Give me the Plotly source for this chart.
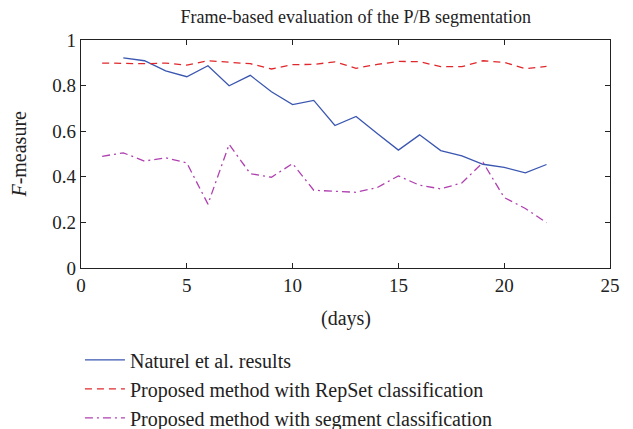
import plotly.graph_objects as go

days_blue = list(range(2, 23))
naturel = [0.922, 0.909, 0.865, 0.839, 0.887, 0.799, 0.845, 0.773, 0.717, 0.735, 0.625,
           0.665, 0.590, 0.517, 0.584, 0.515, 0.492, 0.455, 0.441, 0.417, 0.454]
days = list(range(1, 23))
repset = [0.899, 0.896, 0.896, 0.899, 0.890, 0.909, 0.903, 0.896, 0.873, 0.892, 0.893,
          0.904, 0.876, 0.893, 0.906, 0.905, 0.883, 0.883, 0.909, 0.902, 0.874, 0.884]
segment = [0.490, 0.505, 0.469, 0.483, 0.461, 0.280, 0.542, 0.414, 0.398, 0.458, 0.341,
           0.337, 0.332, 0.353, 0.404, 0.363, 0.347, 0.373, 0.463, 0.309, 0.261, 0.199]

x_ticks = [0, 5, 10, 15, 20, 25]
y_ticks = [0, 0.2, 0.4, 0.6, 0.8, 1]
y_tick_labels = ["0", "0.2", "0.4", "0.6", "0.8", "1"]

FONT = "Liberation Serif"
TXT = "#222"

fig = go.Figure()
fig.add_trace(go.Scatter(x=days_blue, y=naturel, mode="lines", name="Naturel et al. results",
                         line=dict(color="#3a56b0", width=1.3)))
fig.add_trace(go.Scatter(x=days, y=repset, mode="lines", name="Proposed method with RepSet classification",
                         line=dict(color="#e0282c", width=1.3, dash="7px,5px")))
fig.add_trace(go.Scatter(x=days, y=segment, mode="lines", name="Proposed method with segment classification",
                         line=dict(color="#b040b0", width=1.3, dash="8px,4px,2px,4px")))

axis_common = dict(showline=True, linecolor="#222", linewidth=1.2, mirror="allticks",
                   ticks="inside", ticklen=5, tickcolor="#222", showgrid=False, zeroline=False,
                   automargin=False, tickfont=dict(family=FONT, size=19, color=TXT))

fig.update_layout(
    width=633, height=429,
    margin=dict(l=81, r=23, t=40, b=161, autoexpand=False),
    plot_bgcolor="white", paper_bgcolor="white",
    title=dict(text="Frame-based evaluation of the P/B segmentation", x=0.562, xanchor="center",
               y=0.96, yanchor="middle", font=dict(family=FONT, size=18, color=TXT)),
    xaxis=dict(range=[0, 25], tickvals=x_ticks, **axis_common),
    yaxis=dict(range=[0, 1], tickvals=y_ticks, ticktext=y_tick_labels, **axis_common),
    legend=dict(x=-0.002, xanchor="left", y=-0.317, yanchor="top", font=dict(family=FONT, size=20, color=TXT),
                bgcolor="rgba(0,0,0,0)", tracegroupgap=0, itemwidth=40),
    showlegend=True,
    annotations=[
        dict(text="(days)", xref="paper", yref="paper", x=0.5, y=-0.22, xanchor="center", yanchor="middle",
             showarrow=False, font=dict(family=FONT, size=20, color=TXT)),
        dict(text="<i>F</i>-measure", xref="paper", yref="paper", x=-0.118, y=0.5, xanchor="center",
             yanchor="middle", textangle=-90, showarrow=False, font=dict(family=FONT, size=20, color=TXT)),
    ],
)

fig.write_html("out.html", config={"displayModeBar": False},
               post_script="document.body.style.margin='0';")
